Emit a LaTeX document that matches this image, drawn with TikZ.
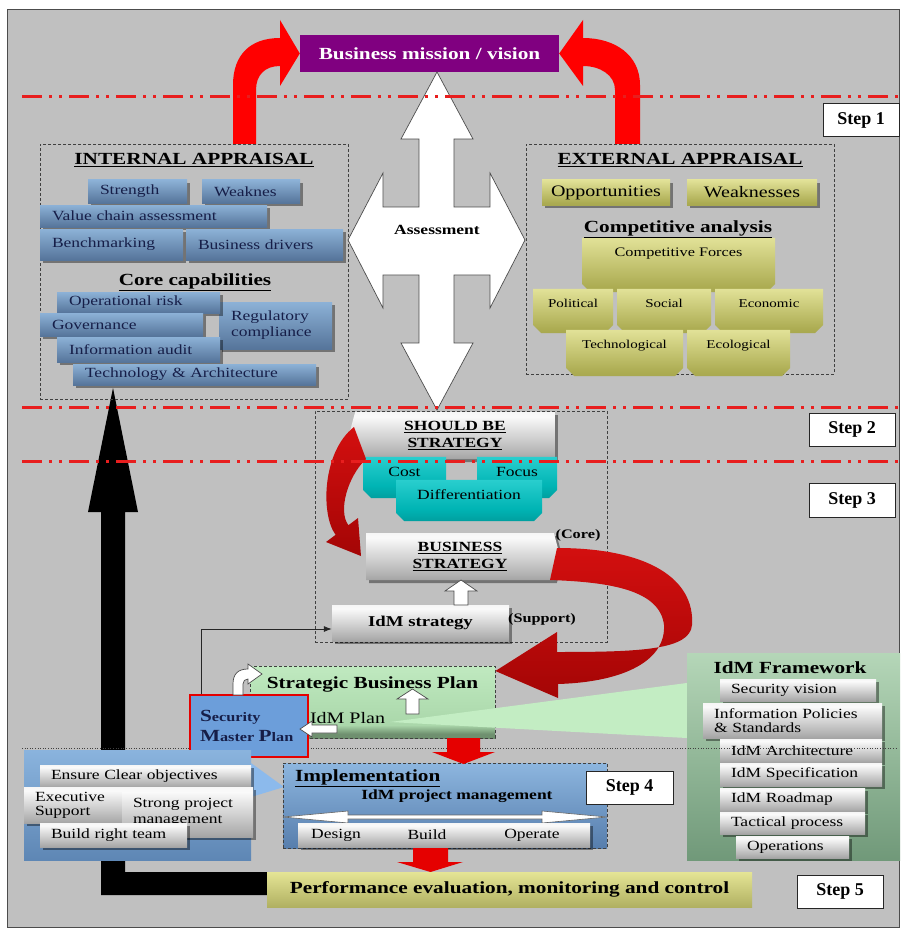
\documentclass[tikz,border=0pt]{standalone}
\usepackage{fontspec}
\setmainfont{Liberation Serif}
\newfontfamily\wide{Liberation Serif}[FakeStretch=1.25]
\usetikzlibrary{positioning}
\usetikzlibrary{shapes.misc,shapes.symbols}
\usetikzlibrary{shadows,arrows.meta}

\definecolor{bggray}{RGB}{192,192,192}
\definecolor{missionpurple}{RGB}{128,0,128}
\definecolor{arrowred}{RGB}{255,0,0}
\definecolor{dashred}{RGB}{232,30,30}
\definecolor{textnavy}{RGB}{22,30,72}
\definecolor{bluetop}{RGB}{168,208,245}
\definecolor{bluebot}{RGB}{58,86,124}
\definecolor{yeltop}{RGB}{255,255,190}
\definecolor{yelmid}{RGB}{172,172,82}
\definecolor{yelbot}{RGB}{150,150,70}
\definecolor{tealtop}{RGB}{70,225,225}
\definecolor{tealmid}{RGB}{0,180,180}
\definecolor{tealbot}{RGB}{0,125,125}
\definecolor{silvtop}{RGB}{228,228,228}
\definecolor{silvmid}{RGB}{250,250,250}
\definecolor{silvlow}{RGB}{175,175,175}
\definecolor{silvbot}{RGB}{110,110,110}
\definecolor{greentop}{RGB}{215,245,215}
\definecolor{greenbot}{RGB}{78,122,90}
\definecolor{plantop}{RGB}{205,245,205}
\definecolor{planmid}{RGB}{170,215,170}
\definecolor{planlow}{RGB}{112,145,112}
\definecolor{planbot}{RGB}{90,120,90}
\definecolor{wedgegreen}{RGB}{195,237,195}
\definecolor{impltop}{RGB}{168,210,248}
\definecolor{implbot}{RGB}{60,98,148}
\definecolor{lefttop}{RGB}{160,202,242}
\definecolor{leftbot}{RGB}{72,112,160}
\definecolor{pointerblue}{RGB}{140,186,236}
\definecolor{secblue}{RGB}{108,158,218}
\definecolor{redtop}{RGB}{235,20,20}
\definecolor{redbot}{RGB}{140,0,0}
\definecolor{perftop}{RGB}{255,255,175}
\definecolor{perfbot}{RGB}{150,150,72}

\pgfdeclareverticalshading{bluegrad}{100bp}{color(0bp)=(bluebot); color(100bp)=(bluetop)}
\pgfdeclareverticalshading{yellowgrad}{100bp}{color(0bp)=(yelbot); color(30bp)=(yelmid); color(100bp)=(yeltop)}
\pgfdeclareverticalshading{tealgrad}{100bp}{color(0bp)=(tealbot); color(40bp)=(tealmid); color(100bp)=(tealtop)}
\pgfdeclareverticalshading{silvergrad}{100bp}{color(0bp)=(silvbot); color(30bp)=(silvlow); color(70bp)=(silvmid); color(100bp)=(silvtop)}
\pgfdeclareverticalshading{greengrad}{100bp}{color(0bp)=(greenbot); color(100bp)=(greentop)}
\pgfdeclareverticalshading{plangrad}{100bp}{color(0bp)=(planbot); color(28bp)=(planlow); color(34bp)=(planmid); color(100bp)=(plantop)}
\pgfdeclareverticalshading{implgrad}{100bp}{color(0bp)=(implbot); color(100bp)=(impltop)}
\pgfdeclareverticalshading{leftgrad}{100bp}{color(0bp)=(leftbot); color(100bp)=(lefttop)}
\pgfdeclareverticalshading{redgrad}{100bp}{color(0bp)=(redbot); color(100bp)=(redtop)}
\pgfdeclareverticalshading{perfgrad}{100bp}{color(0bp)=(perfbot); color(100bp)=(perftop)}

\newcommand{\capl}[1]{{\fontsize{17}{20}\selectfont #1}}

\tikzset{
  every node/.style={inner sep=0pt},
  ttl/.style={font=\wide\bfseries\fontsize{17}{20}\selectfont},
  frame/.style={draw=black!75, line width=0.8pt, dash pattern=on 3pt off 2pt},
  shadowed/.style={drop shadow={shadow xshift=3pt, shadow yshift=-3pt, fill=black, opacity=0.4}},
  bbox/.style={shading=bluegrad, shadowed, text=textnavy, align=left, inner xsep=12pt,
    font=\wide\fontsize{14}{16}\selectfont},
  yflat/.style={shading=yellowgrad, shadowed, font=\wide\fontsize{16}{18}\selectfont},
  ybox/.style={shading=yellowgrad, chamfered rectangle, chamfered rectangle corners={south west,south east},
    chamfered rectangle xsep=5pt, inner ysep=3pt, text height=12pt, font=\wide\fontsize{12}{14}\selectfont},
  tbox/.style={shading=tealgrad, chamfered rectangle, chamfered rectangle corners={south west,south east},
    chamfered rectangle xsep=5pt, inner ysep=3pt, text height=13pt, text depth=16pt,
    font=\wide\fontsize{14}{16}\selectfont},
  sbox/.style={shading=silvergrad, shadowed, align=left, inner xsep=11pt,
    font=\wide\fontsize{14}{15}\selectfont},
  stepbox/.style={draw=black!85, line width=1pt, fill=white, font=\bfseries\fontsize{18}{20}\selectfont},
  whitearrow/.style={fill=white, draw=black!70, line width=0.7pt},
  redline/.style={dashred, line width=3pt, dash pattern=on 20pt off 7pt on 3pt off 7pt on 3pt off 7pt}
}

\begin{document}
\begin{tikzpicture}[x=1pt,y=-1pt]
\useasboundingbox (0,0) rectangle (902,928);
\fill[white] (0,0) rectangle (902,928);
\draw[black!70, fill=bggray] (7,9) rectangle (899,927);

% feedback arrow
\fill[black] (101,895) -- (101,512) -- (88,512) -- (113,388) -- (138,512) -- (125,512)
  -- (125,872) -- (270,872) -- (270,895) -- cycle;

% mission
\node[fill=missionpurple, minimum width=259pt, minimum height=37pt, text=white,
  font=\wide\bfseries\fontsize{17}{20}\selectfont] (mission) at (429.5,53.5) {Business mission / vision};
\fill[arrowred] (233,144) -- (233,85) .. controls (233,55) and (250,38) .. (280,38) -- (280,20)
  -- (mission.west) -- (280,86) -- (280,66) .. controls (265,66) and (256,75) .. (256,90) -- (256,144) -- cycle;
\fill[arrowred] (640,144) -- (640,85) .. controls (640,55) and (615,38) .. (583,38) -- (583,20)
  -- (mission.east) -- (583,86) -- (583,66) .. controls (600,66) and (615,75) .. (615,90) -- (615,144) -- cycle;

% internal appraisal
\node[frame, minimum width=308pt, minimum height=255pt] (intframe) at (194,271.5) {};
\node[ttl] (inttitle) at (194,160) {\underline{INTERNAL APPRAISAL}};
\node[bbox, text width=75pt, minimum height=23pt] (strength) at (137.5,191.5) {Strength};
\node[bbox, text width=74pt, minimum height=23pt] (weaknes) at (251,191.5) {Weaknes};
\node[bbox, text width=203pt, minimum height=22pt] (valuechain) at (153.5,216) {Value chain assessment};
\node[bbox, text width=119pt, minimum height=31pt] (bench) at (111.5,244.5) {Benchmarking};
\node[bbox, text width=133pt, minimum height=31pt] (drivers) at (264.5,244.5) {Business drivers};
\node[ttl] (coretitle) at (195,282) {\underline{Core capabilities}};
\node[bbox, text width=89pt, minimum height=47pt] (regulatory) at (275.5,325.5) {Regulatory\\compliance};
\node[bbox, text width=139pt, minimum height=21pt] (oprisk) at (138.5,302.5) {Operational risk};
\node[bbox, text width=139pt, minimum height=23pt] (governance) at (121.5,324.5) {Governance};
\node[bbox, text width=139pt, minimum height=25pt] (infoaudit) at (138.5,349.5) {Information audit};
\node[bbox, text width=219pt, minimum height=21pt] (techarch) at (194.5,374.5) {Technology \& Architecture};

% external appraisal
\node[frame, minimum width=308pt, minimum height=230pt] (extframe) at (680,259) {};
\node[ttl] (exttitle) at (680,160) {\underline{EXTERNAL APPRAISAL}};
\node[yflat, minimum width=128pt, minimum height=25pt] (opps) at (606,192.5) {Opportunities};
\node[yflat, minimum width=130pt, minimum height=25pt] (weaknesses) at (752,192.5) {Weaknesses};
\node[ybox, minimum width=193pt, text depth=30pt, font=\wide\fontsize{13}{15}\selectfont] (forces) at (678.5,265) {Competitive Forces};
\node[ttl] (comptitle) at (678,229) {\underline{Competitive analysis}};
\node[ybox, minimum width=80pt, text depth=20pt] (political) at (573,311) {Political};
\node[ybox, minimum width=94pt, text depth=20pt] (social) at (664,311) {Social};
\node[ybox, minimum width=108pt, text depth=20pt] (economic) at (769,311) {Economic};
\node[ybox, minimum width=117pt, text depth=22pt] (techno) at (624.5,353) {Technological};
\node[ybox, minimum width=103pt, text depth=22pt] (ecological) at (738.5,353) {Ecological};

% assessment cross
\filldraw[whitearrow] (437,72) -- (473,139) -- (454,139) -- (454,207) -- (490,207) -- (490,173)
  -- (525,240) -- (490,308) -- (490,275) -- (454,275) -- (454,343) -- (473,343) -- (437,410)
  -- (401,343) -- (419,343) -- (419,275) -- (383,275) -- (383,308) -- (348,240) -- (383,173)
  -- (383,207) -- (419,207) -- (419,139) -- (401,139) -- cycle;
\node[font=\wide\bfseries\fontsize{14}{16}\selectfont] (assess) at (437,230) {Assessment};

% strategy
\node[frame, minimum width=292pt, minimum height=231pt] (sframe) at (461,526.5) {};
\node[sbox, signal, signal to=west, signal pointer angle=150, minimum width=206pt, minimum height=47pt,
  align=center, font=\wide\bfseries\fontsize{14}{17}\selectfont] (shouldbe) at (455,435.5) {\underline{SHOULD BE}\\\underline{STRATEGY}};
\node[tbox, minimum width=83pt] (cost) at (404.5,477.5) {Cost};
\node[tbox, minimum width=80pt] (focus) at (517,477.5) {Focus};
\node[tbox, minimum width=146pt] (diff) at (469,500.5) {Differentiation};
\node[sbox, signal, signal to=east, signal pointer angle=150, minimum width=194pt, minimum height=47pt,
  align=center, font=\wide\bfseries\fontsize{14}{17}\selectfont] (busstrat) at (460,556.5) {\underline{BUSINESS}\\\underline{STRATEGY}};
\node[font=\wide\bfseries\fontsize{13}{15}\selectfont] (core) at (578,535) {(Core)};
\node[sbox, minimum width=177pt, minimum height=36pt, align=center,
  font=\wide\bfseries\fontsize{15}{17}\selectfont] (idmstrat) at (420.5,623) {IdM strategy};
\node[font=\wide\bfseries\fontsize{13}{15}\selectfont] (support) at (542,619) {(Support)};
\filldraw[whitearrow] (454,605) -- (468,605) -- (468,591) -- (477,591) -- (461,580) -- (445,591) -- (454,591) -- cycle;
\shade[shading=redgrad] (354,427) .. controls (322,452) and (320.6,514.8) .. (335.6,534.8) -- (326,542)
  -- (361,556) -- (358,518) -- (348.4,525.2) .. controls (337.6,510.8) and (348,476) .. (366,459) -- cycle;

% idm framework
\node[shading=greengrad, minimum width=213pt, minimum height=207pt] (framework) at (793.5,756.5) {};
\node[ttl] (fwtitle) at (790,668) {IdM Framework};
\node[sbox, text width=134pt, minimum height=22pt] (secvision) at (798,690) {Security vision};
\node[sbox, text width=157pt, minimum height=35pt, font=\wide\fontsize{14}{14}\selectfont] (infopol) at (792.5,720.5) {Information Policies\\\& Standards};
\node[sbox, text width=140pt, minimum height=23pt] (idmarch) at (801,750.5) {IdM Architecture};
\node[sbox, text width=140pt, minimum height=23pt] (idmspec) at (801,774.5) {IdM Specification};
\node[sbox, text width=123pt, minimum height=23pt] (roadmap) at (792.5,799.5) {IdM Roadmap};
\node[sbox, text width=123pt, minimum height=22pt] (tactical) at (792.5,823) {Tactical process};
\node[sbox, text width=91pt, minimum height=22pt] (operations) at (792.5,847) {Operations};

% strategic business plan
\node[frame, shading=plangrad, minimum width=245pt, text height=22pt, text depth=50pt,
  font=\wide\bfseries\fontsize{17}{20}\selectfont] (stratplan) at (372.5,702) {Strategic Business Plan};
\fill[wedgegreen] (390,722) -- (framework.west |- 0,683) -- (framework.west |- 0,738) -- cycle;
\node[font=\wide\fontsize{16}{18}\selectfont] (idmplan) at (347.5,718) {IdM Plan};
\filldraw[whitearrow] (406,714) -- (419,714) -- (419,699) -- (428,699) -- (412.5,689) -- (397,699) -- (406,699) -- cycle;
\draw[gray!50!black, line width=0.6pt, dotted] (22,748) -- (898,748);

% security master plan
\node[draw=red!90!black, line width=2.5pt, fill=secblue, minimum width=118pt, minimum height=62pt,
  text width=98pt, align=left, inner xsep=10pt, text=textnavy,
  font=\wide\bfseries\fontsize{13}{20}\selectfont] (secplan) at (249,726) {\capl{S}ecurity\\\capl{M}aster \capl{P}lan};
\filldraw[whitearrow] (337,725) -- (312,725) -- (312,721) -- (300,729) -- (312,737) -- (312,733) -- (337,733) -- cycle;
\filldraw[whitearrow] (233,695) -- (233,684) .. controls (233,674) and (238,669) .. (248,669) -- (248,664)
  -- (262,674) -- (248,684) -- (248,679) .. controls (245,679) and (243,681) .. (243,684) -- (243,695) -- cycle;
\draw[-{Latex[length=8pt,width=6pt]}, black!85, line width=0.8pt] ([xshift=13pt]secplan.north west) |- ([yshift=-6pt]idmstrat.west);

% red loop back to the plan
\shade[shading=redgrad] (557,548) .. controls (650,548) and (695,580) .. (692,625)
  .. controls (690,650) and (640,652) .. (557,652) -- (557,632) -- (stratplan.east |- 0,671) -- (558,698) -- (558,684)
  .. controls (625,682) and (666,660) .. (664,625) .. controls (660,590) and (610,582) .. (550,580) -- cycle;

% success factors
\node[shading=leftgrad, minimum width=227pt, minimum height=110pt] (leftpanel) at (137.5,805) {};
\fill[pointerblue] (251,763) -- (284,787) -- (251,797) -- cycle;
\node[sbox, text width=189pt, minimum height=22pt] (ensure) at (145.5,776) {Ensure Clear objectives};
\node[sbox, text width=76pt, minimum height=36pt, font=\wide\fontsize{14}{14}\selectfont] (executive) at (73,805) {Executive\\Support};
\node[sbox, text width=109pt, minimum height=50pt, font=\wide\fontsize{14}{16}\selectfont] (strong) at (187.5,812) {Strong project\\management};
\node[sbox, text width=125pt, minimum height=24pt] (buildteam) at (113.5,835) {Build right team};

% implementation
\node[frame, shading=implgrad, minimum width=324pt, minimum height=85pt] (impl) at (445,805.5) {};
\node[ttl, anchor=west] (impltitle) at (295,778) {\underline{Implementation}};
\node[font=\wide\bfseries\fontsize{14}{16}\selectfont] (idmpm) at (457,796) {IdM project management};
\filldraw[fill=white, draw=black!60, line width=0.6pt] (283,817) -- (348,811) -- (348,815) -- (542,815) -- (542,811)
  -- (607,817) -- (542,823) -- (542,819) -- (348,819) -- (348,823) -- cycle;
\node[sbox, minimum width=292pt, minimum height=24pt] (dbo) at (444,835) {};
\node[font=\wide\fontsize{14}{16}\selectfont] (design) at (336,835) {Design};
\node[font=\wide\fontsize{14}{16}\selectfont] (build) at (427,835) {Build};
\node[font=\wide\fontsize{14}{16}\selectfont] (operate) at (532,835) {Operate};

% red steps down
\fill[arrowred!90!black] (447,738) -- (480,738) -- (480,752) -- (495,752) -- (463.5,764) -- (432,752) -- (447,752) -- cycle;
\fill[arrowred!90!black] (413,848) -- (448,848) -- (448,862) -- (463,862) -- (430.5,872) -- (397,862) -- (413,862) -- cycle;

% performance
\node[shading=perfgrad, minimum width=485pt, minimum height=35pt,
  font=\wide\bfseries\fontsize{17}{20}\selectfont] (perf) at (509.5,889.5) {Performance evaluation, monitoring and control};

% step separators
\draw[redline] (22,97) -- (900,97);
\draw[redline] (22,407) -- (900,407);
\draw[redline] (22,461) -- (900,461);

% step labels
\node[stepbox, minimum width=76pt, minimum height=33pt] (step1) at (861,120.5) {Step 1};
\node[stepbox, minimum width=86pt, minimum height=33pt] (step2) at (852,429.5) {Step 2};
\node[stepbox, minimum width=86pt, minimum height=34pt] (step3) at (852,500) {Step 3};
\node[stepbox, minimum width=87pt, minimum height=33pt] (step4) at (629.5,787.5) {Step 4};
\node[stepbox, minimum width=86pt, minimum height=33pt] (step5) at (840,891.5) {Step 5};
\end{tikzpicture}
\end{document}
